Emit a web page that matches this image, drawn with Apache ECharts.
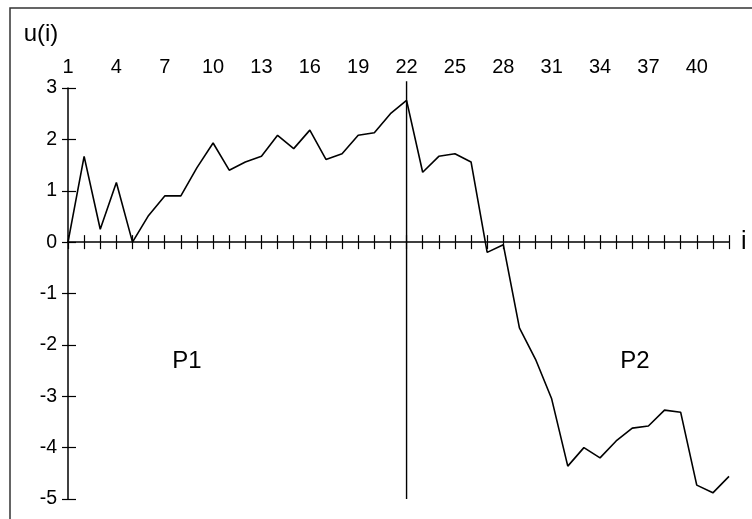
<!DOCTYPE html>
<html>
<head>
<meta charset="utf-8">
<script src="https://cdn.jsdelivr.net/npm/echarts@6/dist/echarts.min.js"></script>
<style>
html,body{margin:0;padding:0;background:#fff;}
#c{width:752px;height:519px;}
</style>
</head>
<body>
<div id="c"></div>
<script>
// Index i
const categories = ['1','2','3','4','5','6','7','8','9','10','11','12','13','14','15','16','17','18','19','20','21','22','23','24','25','26','27','28','29','30','31','32','33','34','35','36','37','38','39','40','41','42'];
// u(i) values
const uValues = [0, 1.67, 0.25, 1.16, 0, 0.52, 0.9, 0.9, 1.45, 1.93, 1.40, 1.56, 1.67, 2.08, 1.82, 2.18, 1.61, 1.72, 2.08, 2.13, 2.50, 2.76, 1.36, 1.67, 1.72, 1.56, -0.2, -0.05, -1.67, -2.28, -3.05, -4.36, -4.00, -4.20, -3.87, -3.62, -3.58, -3.27, -3.31, -4.73, -4.88, -4.56];
// split point between P1 and P2
const splitIndex = '22';
const splitTop = 3.13;
const yMin = -5, yMax = 3, yStep = 1;
const partLabels = ['P1', 'P2'];

const FONT = '"Liberation Sans", Arial, sans-serif';
const chart = echarts.init(document.getElementById('c'), null, {renderer: 'canvas'});
const axisCol = '#000';

const option = {
  animation: false,
  backgroundColor: '#fff',
  grid: {left: 68, right: 23, top: 88, bottom: 20, containLabel: false},
  xAxis: [
    { // axis line on zero with downward ticks, name "i"
      type: 'category', data: categories, boundaryGap: false, position: 'bottom',
      axisLine: {onZero: true, lineStyle: {color: axisCol, width: 1.5}},
      axisTick: {show: true, interval: 0, length: 7, lineStyle: {color: axisCol, width: 1.2}},
      axisLabel: {show: false}, splitLine: {show: false},
      name: 'i', nameLocation: 'end', nameGap: 12,
      nameTextStyle: {fontFamily: FONT, fontSize: 25, color: '#000', verticalAlign: 'middle'}
    },
    { // upward ticks
      type: 'category', data: categories, boundaryGap: false, position: 'bottom',
      axisLine: {onZero: true, show: false},
      axisTick: {show: true, inside: true, interval: 0, length: 7, lineStyle: {color: axisCol, width: 1.2}},
      axisLabel: {show: false}, splitLine: {show: false}
    },
    { // top labels
      type: 'category', data: categories, boundaryGap: false, position: 'top',
      axisLine: {onZero: false, show: false},
      axisTick: {show: false},
      axisLabel: {show: true, interval: 2, margin: 11, fontFamily: FONT, fontSize: 20, color: '#000'},
      splitLine: {show: false}
    }
  ],
  yAxis: [
    {
      type: 'value', min: yMin, max: yMax, interval: yStep, position: 'left',
      axisLine: {show: true, lineStyle: {color: axisCol, width: 1.5}},
      axisTick: {show: true, length: 6, lineStyle: {color: axisCol, width: 1.2}},
      axisLabel: {show: true, margin: 11, fontFamily: FONT, fontSize: 19.5, color: '#000'},
      splitLine: {show: false},
      name: 'u(i)', nameLocation: 'end', nameGap: 0,
      nameTextStyle: {fontFamily: FONT, fontSize: 24, color: '#000', align: 'center', verticalAlign: 'bottom', padding: [0, 54, 42, 0]}
    },
    {
      type: 'value', min: yMin, max: yMax, interval: yStep, position: 'left',
      axisLine: {show: false},
      axisTick: {show: true, inside: true, length: 8, lineStyle: {color: axisCol, width: 1.2}},
      axisLabel: {show: false}, splitLine: {show: false}
    }
  ],
  graphic: [
    {type: 'rect', shape: {x: 10, y: 8, width: 800, height: 600}, style: {fill: 'none', stroke: '#333', lineWidth: 1.5}, silent: true, z: 0},
    {type: 'text', x: 187, y: 361, style: {text: partLabels[0], font: '24px ' + FONT, fill: '#000', align: 'center', verticalAlign: 'middle'}},
    {type: 'text', x: 635, y: 361, style: {text: partLabels[1], font: '24px ' + FONT, fill: '#000', align: 'center', verticalAlign: 'middle'}}
  ],
  series: [
    {
      type: 'line', data: uValues, xAxisIndex: 0, yAxisIndex: 0,
      symbol: 'none', lineStyle: {color: '#000', width: 1.6}, clip: false
    },
    {
      type: 'line', data: [[splitIndex, splitTop], [splitIndex, yMin]], xAxisIndex: 0, yAxisIndex: 0,
      symbol: 'none', lineStyle: {color: '#000', width: 1.4}, clip: false, silent: true
    }
  ]
};
chart.setOption(option);
</script>
</body>
</html>
